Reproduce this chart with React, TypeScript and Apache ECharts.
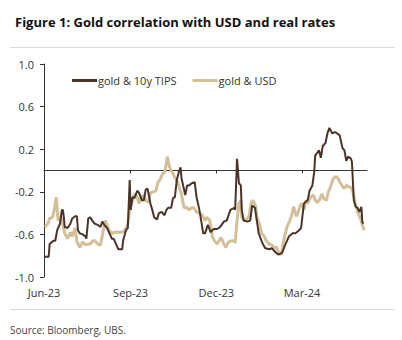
import React, { useEffect, useRef } from "react";
import * as echarts from "echarts";

// x values are days since 2023-06-01
const seriesNames = ["gold & 10y TIPS", "gold & USD"];
const tickDays = [0, 92, 183, 274];
const tickLabels = ["Jun-23", "Sep-23", "Dec-23", "Mar-24"];
const yTicks = [-1.0, -0.6, -0.2, 0.2, 0.6, 1.0];

const goldTips: [number, number][] = [
  [1, -0.81], [5, -0.81], [6, -0.69], [10, -0.66], [12, -0.66], [14, -0.56], [17, -0.5],
  [19, -0.37], [20, -0.37], [21, -0.43], [22, -0.53], [25, -0.54], [28, -0.5], [30, -0.45],
  [33, -0.43], [35, -0.43], [36, -0.56], [38, -0.59], [41, -0.6], [44, -0.62], [45, -0.64],
  [47, -0.45], [49, -0.44], [52, -0.48], [54, -0.5], [57, -0.51], [60, -0.53], [62, -0.48],
  [64, -0.51], [67, -0.54], [69, -0.58], [72, -0.64], [74, -0.64], [77, -0.7], [79, -0.74],
  [83, -0.74], [84, -0.66], [87, -0.56], [89, -0.54], [91, -0.09], [92, -0.37], [94, -0.25],
  [96, -0.26], [99, -0.19], [101, -0.21], [104, -0.28], [106, -0.28], [108, -0.18], [110, -0.17],
  [113, -0.31], [115, -0.37], [117, -0.44], [120, -0.46], [122, -0.4], [125, -0.39], [128, -0.42],
  [130, -0.37], [132, -0.35], [135, -0.35], [137, -0.26], [139, -0.25], [141, -0.09], [143, -0.02],
  [145, 0.03], [146, -0.07], [148, -0.15], [150, -0.23], [152, -0.14], [154, -0.14], [157, -0.12],
  [160, -0.11], [162, -0.25], [165, -0.37], [168, -0.53], [169, -0.59], [171, -0.59], [174, -0.51],
  [177, -0.58], [180, -0.55], [184, -0.55], [187, -0.53], [191, -0.48], [194, -0.47], [198, -0.37],
  [202, -0.35], [203, -0.37], [205, 0.11], [207, -0.12], [209, -0.14], [210, -0.37], [212, -0.47],
  [216, -0.48], [219, -0.47], [221, -0.33], [224, -0.35], [226, -0.47], [228, -0.59], [231, -0.66],
  [233, -0.7], [235, -0.73], [239, -0.74], [242, -0.73], [246, -0.77], [249, -0.79], [253, -0.77],
  [256, -0.7], [260, -0.62], [264, -0.59], [267, -0.59], [271, -0.56], [273, -0.54], [276, -0.31],
  [280, -0.28], [282, -0.19], [285, -0.14], [287, -0.01], [288, 0.14], [292, 0.19], [294, 0.12],
  [296, 0.23], [299, 0.26], [301, 0.35], [303, 0.4], [306, 0.35], [309, 0.36], [311, 0.35],
  [314, 0.33], [317, 0.21], [319, 0.19], [321, 0.09], [323, 0.13], [326, 0.11], [327, 0.08],
  [329, -0.28], [331, -0.34], [333, -0.35], [335, -0.39], [337, -0.34], [338, -0.48], [339, -0.5],
];

const goldUsd: [number, number][] = [
  [1, -0.53], [4, -0.5], [6, -0.45], [9, -0.44], [11, -0.37], [13, -0.25], [15, -0.47],
  [18, -0.44], [20, -0.51], [22, -0.59], [25, -0.64], [28, -0.58], [30, -0.62], [33, -0.54],
  [35, -0.67], [38, -0.72], [41, -0.67], [44, -0.7], [46, -0.69], [49, -0.69], [52, -0.66],
  [54, -0.66], [57, -0.69], [60, -0.7], [62, -0.61], [65, -0.47], [67, -0.51], [69, -0.56],
  [72, -0.59], [75, -0.58], [79, -0.58], [83, -0.58], [86, -0.56], [89, -0.5], [91, -0.37],
  [94, -0.28], [96, -0.22], [99, -0.25], [101, -0.31], [103, -0.26], [106, -0.23], [108, -0.28],
  [111, -0.3], [113, -0.21], [116, -0.2], [119, -0.19], [121, -0.11], [123, -0.09], [126, -0.03],
  [128, -0.02], [130, 0.07], [131, 0.13], [133, 0.04], [135, 0.0], [137, -0.03], [139, -0.07],
  [142, -0.11], [144, -0.17], [146, -0.22], [147, -0.28], [149, -0.35], [152, -0.35], [154, -0.37],
  [157, -0.35], [159, -0.35], [162, -0.39], [165, -0.4], [168, -0.42], [171, -0.47], [173, -0.44],
  [176, -0.47], [179, -0.63], [181, -0.66], [184, -0.69], [186, -0.66], [188, -0.63], [191, -0.69],
  [193, -0.72], [196, -0.67], [199, -0.66], [202, -0.66], [203, -0.68], [205, -0.47], [207, -0.31],
  [209, -0.28], [210, -0.44], [213, -0.47], [216, -0.45], [218, -0.42], [220, -0.3], [222, -0.28],
  [225, -0.34], [226, -0.44], [229, -0.51], [231, -0.59], [234, -0.62], [236, -0.66], [239, -0.69],
  [242, -0.7], [244, -0.72], [247, -0.72], [249, -0.77], [252, -0.79], [254, -0.68], [256, -0.6],
  [258, -0.53], [261, -0.47], [263, -0.42], [265, -0.34], [268, -0.43], [270, -0.39], [272, -0.33],
  [274, -0.31], [276, -0.37], [278, -0.28], [280, -0.31], [283, -0.25], [286, -0.23], [288, -0.28],
  [290, -0.3], [293, -0.27], [295, -0.22], [297, -0.26], [300, -0.28], [302, -0.2], [304, -0.16],
  [307, -0.08], [309, -0.06], [311, -0.06], [312, -0.07], [315, -0.12], [317, -0.15], [319, -0.17],
  [321, -0.14], [323, -0.15], [326, -0.16], [327, -0.17], [329, -0.24], [331, -0.33], [333, -0.39],
  [336, -0.45], [338, -0.51], [340, -0.56],
];

const FONT = "'Open Sans', 'Noto Sans', sans-serif";
const DARK = "#4a3428";
const TAN = "#d3bf98";

export default function App() {
  const ref = useRef<HTMLDivElement>(null);
  useEffect(() => {
    if (!ref.current) return;
    const chart = echarts.init(ref.current, null, { renderer: "svg" });
    chart.setOption({
      animation: false,
      backgroundColor: "#ffffff",
      title: {
        text: "Figure 1: Gold correlation with USD and real rates",
        left: 10,
        top: 10,
        textStyle: { fontFamily: FONT, fontSize: 13, fontWeight: "bold", color: "#111" },
      },
      legend: {
        data: seriesNames,
        left: 67,
        top: 70,
        icon: "rect",
        itemWidth: 25,
        itemHeight: 3,
        itemGap: 16,
        textStyle: { fontFamily: FONT, fontSize: 11, color: "#333", padding: [0, 0, 0, -4] },
      },
      grid: { left: 44, right: 35, top: 64, bottom: 63 },
      xAxis: [
        {
          type: "value",
          min: 0,
          max: 343,
          position: "bottom",
          axisLine: { show: true, onZero: true, lineStyle: { color: "#333", width: 1 } },
          axisTick: { show: true, customValues: tickDays.slice(1), length: 3, lineStyle: { color: "#333" } },
          axisLabel: { show: false },
          splitLine: { show: false },
        },
        {
          type: "value",
          min: 0,
          max: 343,
          position: "bottom",
          axisLine: { show: false, onZero: false },
          axisTick: { show: false },
          axisLabel: {
            customValues: tickDays,
            formatter: (v: number) => {
              const i = tickDays.indexOf(Math.round(v));
              return i >= 0 ? tickLabels[i] : "";
            },
            fontFamily: FONT,
            fontSize: 11,
            color: "#333",
            margin: 10,
          },
          splitLine: { show: false },
        },
      ],
      yAxis: {
        type: "value",
        min: yTicks[0],
        max: yTicks[yTicks.length - 1],
        interval: 0.4,
        axisLine: { show: true, lineStyle: { color: "#333", width: 1 } },
        axisTick: { show: true, length: 4, lineStyle: { color: "#333" } },
        axisLabel: {
          formatter: (v: number) => v.toFixed(1),
          fontFamily: FONT,
          fontSize: 11,
          color: "#333",
          margin: 10,
        },
        splitLine: { show: false },
      },
      graphic: [
        { type: "line", shape: { x1: 10, y1: 47.5, x2: 395, y2: 47.5 }, style: { stroke: "#d9d9d9", lineWidth: 1 } },
        { type: "line", shape: { x1: 10, y1: 309.5, x2: 395, y2: 309.5 }, style: { stroke: "#d9d9d9", lineWidth: 1 } },
        {
          type: "text",
          left: 10,
          top: 325,
          style: { text: "Source: Bloomberg, UBS.", font: `10px ${FONT}`, fill: "#444" },
        },
      ],
      series: [
        {
          name: seriesNames[1],
          type: "line",
          xAxisIndex: 0,
          data: goldUsd,
          symbol: "none",
          lineStyle: { color: TAN, width: 3 },
          itemStyle: { color: TAN },
          z: 2,
        },
        {
          name: seriesNames[0],
          type: "line",
          xAxisIndex: 0,
          data: goldTips,
          symbol: "none",
          lineStyle: { color: DARK, width: 2 },
          itemStyle: { color: DARK },
          z: 3,
        },
      ],
    });
    return () => chart.dispose();
  }, []);
  return (
    <div
      ref={ref}
      style={{ position: "absolute", left: 0, top: 0, width: 402, height: 340, background: "#fff" }}
    />
  );
}
